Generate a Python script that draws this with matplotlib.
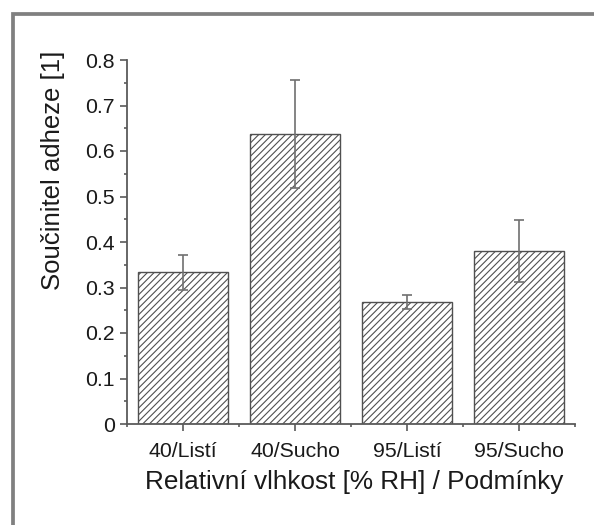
import matplotlib
matplotlib.use("Agg")
import matplotlib.pyplot as plt
from matplotlib.patches import Rectangle
from matplotlib.ticker import MultipleLocator

plt.rcParams['font.family'] = ['Liberation Sans', 'DejaVu Sans']
plt.rcParams['hatch.linewidth'] = 0.8
plt.rcParams['hatch.color'] = '#4a4a4a'

categories = ['40/Listí', '40/Sucho', '95/Listí', '95/Sucho']
means = [0.333, 0.637, 0.268, 0.381]
errors = [0.039, 0.118, 0.015, 0.068]
y_ticks = [0, 0.1, 0.2, 0.3, 0.4, 0.5, 0.6, 0.7, 0.8]
y_tick_labels = ['0', '0.1', '0.2', '0.3', '0.4', '0.5', '0.6', '0.7', '0.8']

W, H = 594, 525
fig = plt.figure(figsize=(W / 100, H / 100), dpi=100)
ax = fig.add_axes([127 / W, 1 - 424 / H, (575 - 127) / W, (424 - 60) / H])

axis_col = '#5a5a5a'
x = list(range(1, len(categories) + 1))
ax.bar(x, means, width=0.81, color='white', edgecolor='#505050',
       linewidth=1.0, hatch='/////', zorder=2)
ax.errorbar(x, means, yerr=errors, fmt='none', ecolor='#707070',
            elinewidth=1.2, capsize=3.5, capthick=1.2, zorder=3)

ax.set_xlim(0.5, 4.5)
ax.set_ylim(0, 0.8)
ax.set_xticks(x)
ax.set_xticklabels(categories)
ax.xaxis.set_minor_locator(MultipleLocator(1.0, offset=0.5))
ax.set_yticks(y_ticks)
ax.set_yticklabels(y_tick_labels)
ax.yaxis.set_minor_locator(MultipleLocator(0.05))

for side in ('top', 'right'):
    ax.spines[side].set_visible(False)
for side in ('left', 'bottom'):
    ax.spines[side].set_color(axis_col)
    ax.spines[side].set_linewidth(1.3)

ax.tick_params(axis='both', which='major', direction='out', length=5,
               width=1.2, color=axis_col, labelsize=15.3, labelcolor='#1a1a1a')
ax.tick_params(axis='both', which='minor', direction='out', length=2.2,
               width=1.2, color=axis_col)
ax.tick_params(axis='y', which='major', pad=4)
ax.tick_params(axis='x', which='major', pad=8)

fig.text(53 / W, 1 - 170 / H, 'Součinitel adheze [1]', rotation=90,
         ha='center', va='center', fontsize=18.5, color='#1a1a1a')
fig.text(354 / W, 1 - 482 / H, 'Relativní vlhkost [% RH] / Podmínky',
         ha='center', va='center', fontsize=18.8, color='#1a1a1a')

# grey outer frame, open towards the right and bottom edges
fig.add_artist(Rectangle((13 / W, -0.2), 1.5, 1.2 - 13.8 / H,
                         transform=fig.transFigure, fill=False,
                         edgecolor='#808080', linewidth=2.7))

fig.savefig('out.png', dpi=100, facecolor='white')
